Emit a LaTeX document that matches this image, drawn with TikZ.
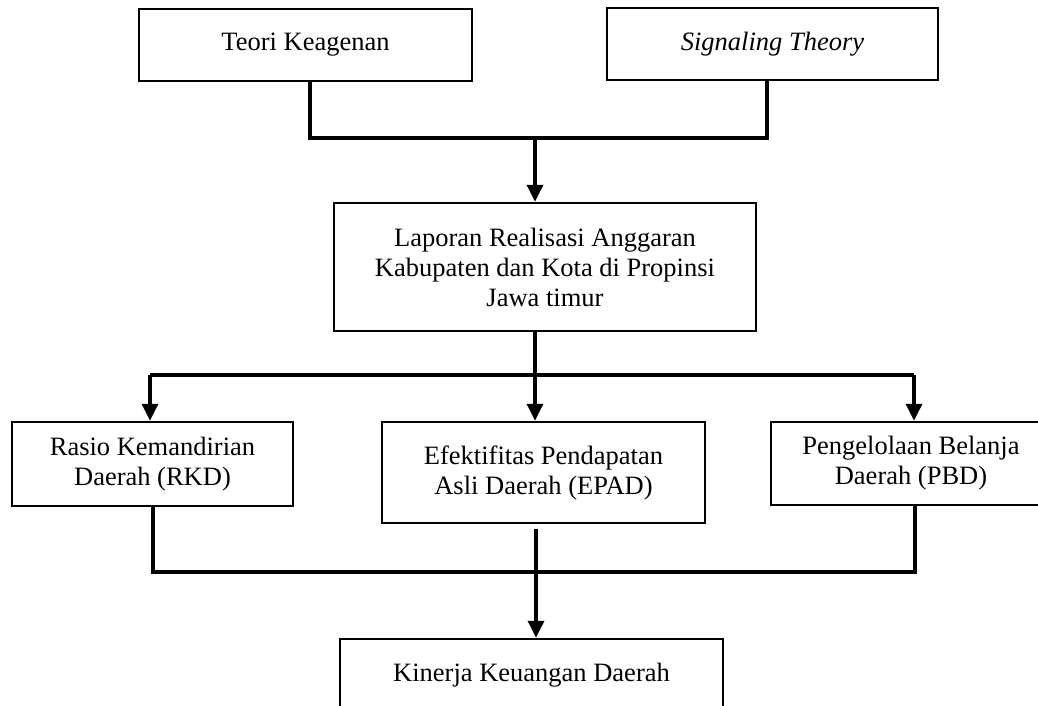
\documentclass[tikz,border=0pt]{standalone}
\usepackage{fontspec}
\setmainfont{Liberation Serif}
\usetikzlibrary{arrows.meta}
\tikzset{
  box/.style={draw=black, line width=2.5pt, inner sep=2pt, align=center,
    font=\fontsize{26.5}{30}\selectfont},
  conn/.style={line width=3.5pt, draw=black},
  arr/.style={conn, -{Triangle[width=16pt,length=17pt]}}
}
\begin{document}
\begin{tikzpicture}[x=1pt,y=-1pt]
\useasboundingbox (0,0) rectangle (1038,706);
\clip (0,0) rectangle (1038,706);
% boxes
\node[box, minimum width=333pt, minimum height=72pt] (b1) at (305.5,45) {Teori Keagenan};
\node[box, minimum width=331pt, minimum height=72pt] (b2) at (772.5,44) {\itshape Signaling Theory};
\node[box, minimum width=422pt, minimum height=128pt] (b3) at (545,267)
  {Laporan Realisasi Anggaran\\Kabupaten dan Kota di Propinsi\\Jawa timur};
\node[box, minimum width=281pt, minimum height=84pt] (b4) at (152.5,464)
  {Rasio Kemandirian\\Daerah (RKD)};
\node[box, minimum width=323pt, minimum height=101pt] (b5) at (543.5,472.5)
  {Efektifitas Pendapatan\\Asli Daerah (EPAD)};
\node[box, minimum width=280pt, minimum height=83pt] (b6) at (911,463.5)
  {Pengelolaan Belanja\\Daerah (PBD)};
\node[box, minimum width=383pt, minimum height=73pt] (b7) at (531.5,675.5)
  {Kinerja Keuangan Daerah};
% junction coordinates
\coordinate (j1) at (535,138);
\coordinate (l2) at (150,375);
\coordinate (r2) at (914,375);
\coordinate (l3) at (153,572);
\coordinate (r3) at (915,572);
\coordinate (m3) at (536,572);
% top merge
\draw[conn] ([xshift=4.5pt]b1.south) |- (j1) -| ([xshift=-5.5pt]b2.south);
\draw[arr] (j1) -- (j1 |- b3.north);
% middle split
\draw[arr] (b3.south -| j1) -- (b5.north -| j1);
\draw[conn] (l2) -- (r2);
\draw[arr] (l2) -- (l2 |- b4.north);
\draw[arr] (r2) -- (r2 |- b6.north);
% bottom merge
\draw[conn] (l3 |- b4.south) -- (l3) -- (r3) -- (r3 |- b6.south);
\draw[arr] ([yshift=-5pt]b5.south -| m3) -- (m3 |- b7.north);
\end{tikzpicture}
\end{document}
